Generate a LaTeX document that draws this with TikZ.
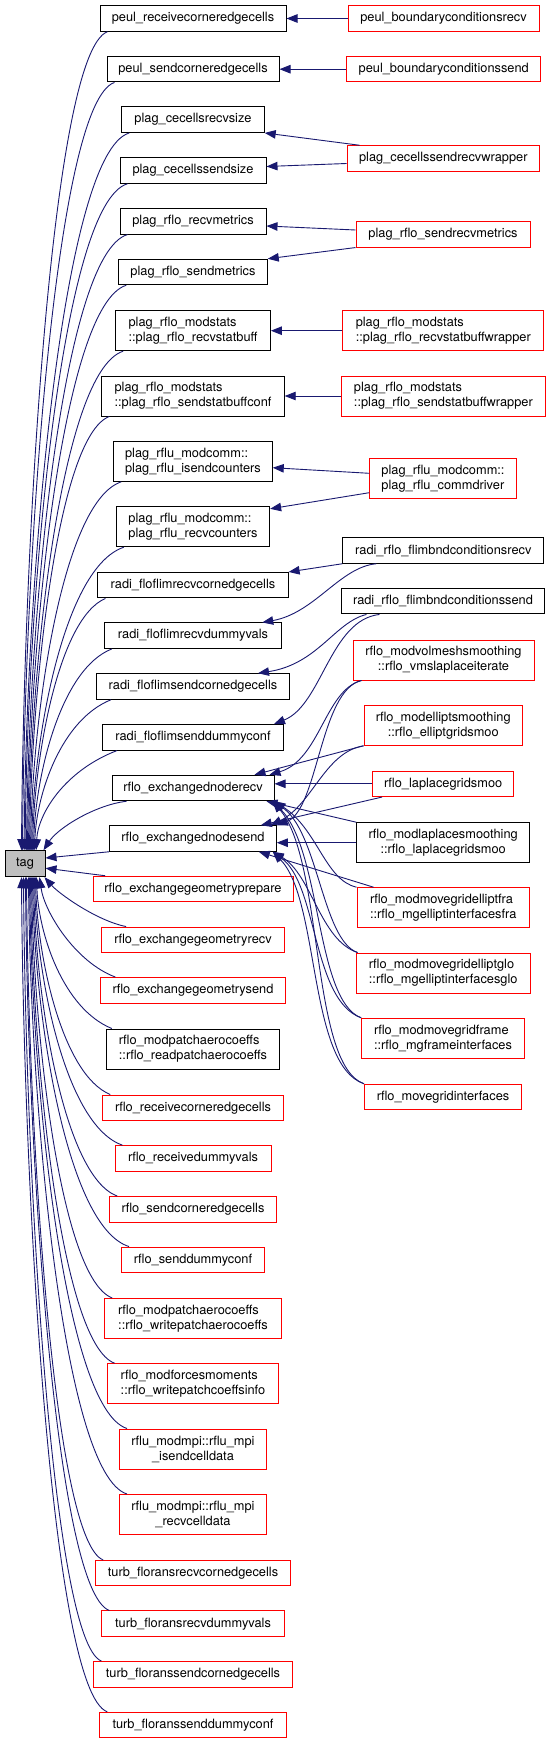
\documentclass[tikz,border=0pt]{standalone}
\usepackage{fontspec}
\setmainfont{TeX Gyre Heros}
\usetikzlibrary{arrows.meta,calc}
\definecolor{edgeblue}{RGB}{25,25,112}
\definecolor{taggray}{RGB}{191,191,191}

\begin{document}
\begin{tikzpicture}[x=1pt, y=-1pt, font=\fontsize{12.8}{15}\selectfont,
		fn/.style={draw=black, line width=1pt, fill=white, inner sep=0pt, minimum height=25.5pt},
		fnred/.style={fn, draw=red},
		twoline/.style={minimum height=40pt},
		callarrow/.style={draw=edgeblue, line width=0.9pt, -{Triangle[length=11pt,width=8.5pt]}}]
	\useasboundingbox (0,0) rectangle (552,1744);
	
	% Nút gốc
	\node[fn, fill=taggray, minimum width=40pt, minimum height=26pt] (tag) at (25,863.7) {tag};
	
	% Cột giữa: các hàm gọi tag
	\node[fn, minimum width=186pt] (L1) at (193,18.5) {peul\_receivecorneredgecells};
	\node[fn, minimum width=172pt] (L2) at (193,69.2) {peul\_sendcorneredgecells};
	\node[fn, minimum width=142.4pt] (L3) at (193,119.7) {plag\_cecellsrecvsize};
	\node[fn, minimum width=146pt] (L4) at (193,170.5) {plag\_cecellssendsize};
	\node[fn, minimum width=146pt] (L5) at (193,221.3) {plag\_rflo\_recvmetrics};
	\node[fn, minimum width=148.5pt] (L6) at (193,272) {plag\_rflo\_sendmetrics};
	\node[fn, twoline, align=left, minimum width=154.7pt] (L7) at (193,330.7) {plag\_rflo\_modstats\\::plag\_rflo\_recvstatbuff};
	\node[fn, twoline, align=left, minimum width=182.4pt] (L8) at (193,396) {plag\_rflo\_modstats\\::plag\_rflo\_sendstatbuffconf};
	\node[fn, twoline, align=left, minimum width=158.5pt] (L9) at (193,461.3) {plag\_rflu\_modcomm::\\plag\_rflu\_isendcounters};
	\node[fn, twoline, align=left, minimum width=153.3pt] (L10) at (193,526.7) {plag\_rflu\_modcomm::\\plag\_rflu\_recvcounters};
	\node[fn, minimum width=190.2pt] (L11) at (193,585.2) {radi\_floflimrecvcornedgecells};
	\node[fn, minimum width=177.5pt] (L12) at (193,635.7) {radi\_floflimrecvdummyvals};
	\node[fn, minimum width=193pt] (L13) at (193,686.5) {radi\_floflimsendcornedgecells};
	\node[fn, minimum width=181pt] (L14) at (193,737.3) {radi\_floflimsenddummyconf};
	\node[fn, minimum width=162pt] (L15) at (193,788) {rflo\_exchangednoderecv};
	\node[fn, minimum width=166.6pt] (L16) at (193,838.5) {rflo\_exchangednodesend};
	\node[fnred, minimum width=200pt] (L17) at (193,889) {rflo\_exchangegeometryprepare};
	\node[fnred, minimum width=182.8pt] (L18) at (193,939.8) {rflo\_exchangegeometryrecv};
	\node[fnred, minimum width=185.3pt] (L19) at (193,990.3) {rflo\_exchangegeometrysend};
	\node[fn, twoline, align=left, minimum width=173.4pt] (L20) at (193,1049) {rflo\_modpatchaerocoeffs\\::rflo\_readpatchaerocoeffs};
	\node[fnred, minimum width=180.4pt] (L21) at (193,1107.8) {rflo\_receivecorneredgecells};
	\node[fnred, minimum width=156pt] (L22) at (193,1158.5) {rflo\_receivedummyvals};
	\node[fnred, minimum width=166.6pt] (L23) at (193,1209.3) {rflo\_sendcorneredgecells};
	\node[fnred, minimum width=143pt] (L24) at (193,1259.8) {rflo\_senddummyconf};
	\node[fnred, twoline, align=left, minimum width=176.5pt] (L25) at (193,1318.5) {rflo\_modpatchaerocoeffs\\::rflo\_writepatchaerocoeffs};
	\node[fnred, twoline, align=left, minimum width=171.8pt] (L26) at (193,1383.7) {rflo\_modforcesmoments\\::rflo\_writepatchcoeffsinfo};
	\node[fnred, twoline, align=center, minimum width=147pt] (L27) at (193,1449) {rflu\_modmpi::rflu\_mpi\\\_isendcelldata};
	\node[fnred, twoline, align=center, minimum width=147pt] (L28) at (193,1514.5) {rflu\_modmpi::rflu\_mpi\\\_recvcelldata};
	\node[fnred, minimum width=194.7pt] (L29) at (193,1573.2) {turb\_floransrecvcornedgecells};
	\node[fnred, minimum width=182.4pt] (L30) at (193,1623.7) {turb\_floransrecvdummyvals};
	\node[fnred, minimum width=198.2pt] (L31) at (193,1674.3) {turb\_floranssendcornedgecells};
	\node[fnred, minimum width=186.5pt] (L32) at (193,1725) {turb\_floranssenddummyconf};
	
	% Cột phải
	\node[fnred, minimum width=191pt] (R1) at (443.5,18.5) {peul\_boundaryconditionsrecv};
	\node[fnred, minimum width=194pt] (R2) at (443.7,69.2) {peul\_boundaryconditionssend};
	\node[fnred, minimum width=192.5pt] (R3) at (443.3,158.5) {plag\_cecellssendrecvwrapper};
	\node[fnred, minimum width=174pt] (R4) at (443,234.3) {plag\_rflo\_sendrecvmetrics};
	\node[fnred, twoline, align=left, minimum width=201pt] (R5) at (443.3,330.7) {plag\_rflo\_modstats\\::plag\_rflo\_recvstatbuffwrapper};
	\node[fnred, twoline, align=left, minimum width=204pt] (R6) at (443.4,396) {plag\_rflo\_modstats\\::plag\_rflo\_sendstatbuffwrapper};
	\node[fnred, twoline, align=left, minimum width=146.5pt] (R7) at (443,478.7) {plag\_rflu\_modcomm::\\plag\_rflu\_commdriver};
	\node[fn, minimum width=201pt] (R8) at (443.3,550.5) {radi\_rflo\_flimbndconditionsrecv};
	\node[fn, minimum width=203.5pt] (R9) at (443,601.2) {radi\_rflo\_flimbndconditionssend};
	\node[fnred, twoline, align=center, minimum width=181pt] (R10) at (443.5,660) {rflo\_modvolmeshsmoothing\\::rflo\_vmslaplaceiterate};
	\node[fnred, twoline, align=center, minimum width=158.3pt] (R11) at (443.2,725.3) {rflo\_modelliptsmoothing\\::rflo\_elliptgridsmoo};
	\node[fnred, minimum width=141.3pt] (R12) at (443.2,783.8) {rflo\_laplacegridsmoo};
	\node[fn, twoline, align=center, minimum width=173pt] (R13) at (443.2,842.7) {rflo\_modlaplacesmoothing\\::rflo\_laplacegridsmoo};
	\node[fnred, twoline, align=left, minimum width=172.3pt] (R14) at (443.2,907.7) {rflo\_modmovegridelliptfra\\::rflo\_mgelliptinterfacesfra};
	\node[fnred, twoline, align=left, minimum width=174.4pt] (R15) at (443.2,973) {rflo\_modmovegridelliptglo\\::rflo\_mgelliptinterfacesglo};
	\node[fnred, twoline, align=left, minimum width=162.7pt] (R16) at (443,1038.3) {rflo\_modmovegridframe\\::rflo\_mgframeinterfaces};
	\node[fnred, minimum width=157pt] (R17) at (443,1097) {rflo\_movegridinterfaces};
	
	% Các cạnh đi vào tag từ phía trên
	\foreach \n/\s/\dx/\a/\b in {L1/8/17/56/303, L2/8/18/60/284, L3/8/19.6/68/265, L4/8/20.6/67/247,
		L5/8/22/66/228, L6/8/23/64/209, L7/8/24/62/185, L8/8/25/52/161, L9/8/26/59/136,
		L10/8/27/60/112, L11/8/28/47/93, L12/8/29/51/75, L13/15/30/50/56, L14/15/31.6/52/37}
	\draw[callarrow] ($(\n.south west)+(\s,0)$) .. controls +(-\a,20) and +(2,-\b) .. ($(tag.north west)+(\dx,0)$);
	
	% Các cạnh đi vào tag từ phía dưới
	\foreach \n/\s/\dx/\a/\b in {L20/6/32/49/56, L21/8/31/48/81, L22/8/30/57/100, L23/8/29/54/118,
		L24/8/28/63/137, L25/8/27/52/156, L26/8/26/54/180, L27/8/25/63/204, L28/8/24/64/229,
		L29/8/22/50/253, L30/8/21/54/272, L31/8/19/50/290, L32/8/17/56/309}
	\draw[callarrow] ($(\n.north west)+(\s,0)$) .. controls +(-\a,-20) and +(2,\b) .. ($(tag.south west)+(\dx,0)$);
	
	% Các cạnh gần tag
	\draw[callarrow] ($(L15.south west)+(15,0)$) .. controls (95,805) and (58,828) .. ($(tag.north east)+(-2,0)$);
	\draw[callarrow] (L16.south west) -- ($(tag.east)+(0,-5.7)$);
	\draw[callarrow] ($(L17.north west)+(12.7,0)$) -- ($(tag.east)+(0,4.5)$);
	\draw[callarrow] ($(L18.north west)+(25,0)$) .. controls +(-30,-6) and +(14,16) .. ($(tag.south east)+(-1,0)$);
	\draw[callarrow] ($(L19.north west)+(15.5,0)$) .. controls +(-40,-15) and +(5,35) .. ($(tag.south west)+(35,0)$);
	
	% Cột phải -> cột giữa
	\draw[callarrow] (R1.west) -- (L1.east);
	\draw[callarrow] (R2.west) -- (L2.east);
	\draw[callarrow] ($(R3.north west)+(13,0)$) -- (L3.south east);
	\draw[callarrow] ($(R3.west)+(0,5)$) -- ($(L4.east)+(0,-4)$);
	\draw[callarrow] ($(R4.west)+(0,-4.3)$) -- ($(L5.east)+(0,4.7)$);
	\draw[callarrow] (R4.south west) -- (L6.north east);
	\draw[callarrow] (R5.west) -- (L7.east);
	\draw[callarrow] (R6.west) -- (L8.east);
	\draw[callarrow] ($(R7.west)+(0,-5.4)$) -- ($(L9.east)+(0,6.4)$);
	\draw[callarrow] ($(R7.west)+(0,14)$) -- ($(L10.north east)+(0,2.6)$);
	\draw[callarrow] (R8.south west) -- (L11.north east);
	\draw[callarrow] ($(R8.south west)+(34,0)$) .. controls (340,567) and (315,613) .. ($(L12.north east)+(-20,0)$);
	\draw[callarrow] ($(R9.south west)+(25.7,0)$) .. controls (335,622) and (318,664) .. ($(L13.north east)+(-32,0)$);
	\draw[callarrow] ($(R9.south west)+(38.7,0)$) .. controls (330,620) and (322,705) .. ($(L14.north east)+(-10,0)$);
	
	% Các cạnh vào rflo_exchangednoderecv / rflo_exchangednodesend
	\draw[callarrow] ($(R10.south west)+(9,0)$) .. controls (325,690) and (320,760) .. ($(L15.north east)+(-5,0)$);
	\draw[callarrow] ($(R10.south west)+(9,0)$) .. controls (320,690) and (318,810) .. (L16.north east);
	\draw[callarrow] (R11.south west) -- ($(L15.north east)+(-20,0)$);
	\draw[callarrow] (R11.south west) .. controls (325,752) and (312,805) .. ($(L16.north east)+(-6,0)$);
	\draw[callarrow] (R12.west) -- (R12.west -| L15.east);
	\draw[callarrow] ($(R12.south west)+(10,0)$) -- ($(L16.north east)+(-16,0)$);
	\draw[callarrow] (R13.north west) -- ($(L15.south east)+(-8,0)$);
	\draw[callarrow] (R13.west) -- (R13.west -| L16.east);
	\draw[callarrow] (R14.north west) .. controls (325,880) and (318,830) .. (L15.south east);
	\draw[callarrow] ($(R14.north west)+(17,0)$) -- ($(L16.south east)+(-18,0)$);
	\draw[callarrow] ($(R15.north west)+(2,0)$) .. controls (322,940) and (318,830) .. ($(L15.south east)+(-2,0)$);
	\draw[callarrow] ($(R15.north west)+(2,0)$) .. controls (320,940) and (312,875) .. ($(L16.south east)+(-4,0)$);
	\draw[callarrow] (R16.north west) .. controls (315,1000) and (322,850) .. ($(L15.south east)+(-2,0)$);
	\draw[callarrow] (R16.north west) .. controls (312,1000) and (318,885) .. ($(L16.south east)+(-4,0)$);
	\draw[callarrow] (R17.north west) .. controls (310,1065) and (324,860) .. ($(L15.south east)+(-2,0)$);
	\draw[callarrow] (R17.north west) .. controls (308,1065) and (320,900) .. ($(L16.south east)+(-4,0)$);
\end{tikzpicture}
\end{document}
